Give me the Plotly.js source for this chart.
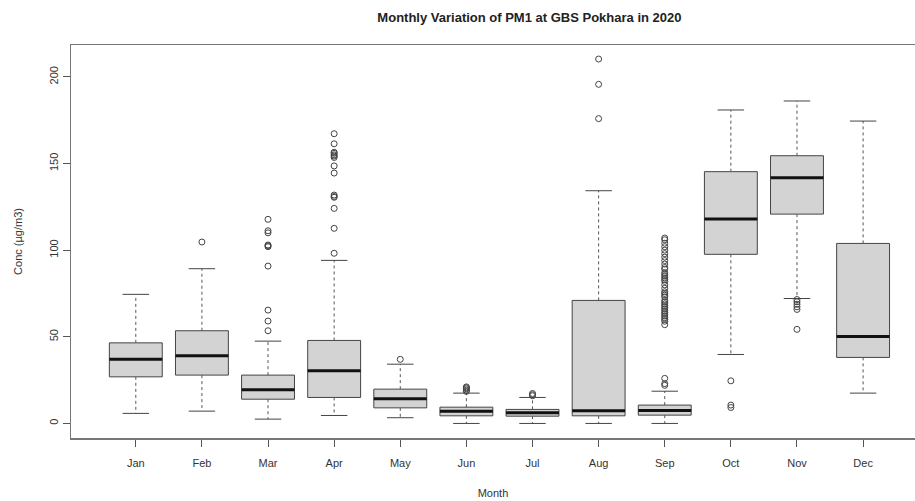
<!DOCTYPE html>
<html>
<head>
<meta charset="utf-8">
<script src="https://cdn.plot.ly/plotly-3.0.1.min.js"></script>
<style>html,body{margin:0;padding:0;background:#fff;}#chart{width:915px;height:501px;}</style>
</head>
<body>
<div id="chart"></div>
<script>
const months = ["Jan","Feb","Mar","Apr","May","Jun","Jul","Aug","Sep","Oct","Nov","Dec"];
const lowerWhisker = [5.8, 7.1, 2.5, 4.6, 3.3, 0.0, 0.0, 0.0, 0.0, 39.8, 72.1, 17.5];
const q1 =           [26.9, 27.9, 14.0, 15.0, 9.0, 4.4, 4.2, 4.4, 4.8, 97.6, 120.8, 38.1];
const median =       [37.1, 39.0, 19.4, 30.4, 14.2, 7.1, 6.1, 7.3, 7.5, 118.0, 141.8, 50.2];
const q3 =           [46.5, 53.5, 27.9, 47.9, 19.8, 9.4, 8.1, 71.0, 10.6, 145.3, 154.5, 103.9];
const upperWhisker = [74.5, 89.3, 47.5, 94.1, 34.2, 17.5, 15.0, 134.3, 18.6, 180.9, 186.1, 174.5];
const outliers = [
  [],
  [104.7],
  [117.8, 111.2, 110.0, 103.0, 102.5, 102.0, 90.8, 65.4, 59.1, 53.5],
  [167.2, 161.4, 156.5, 155.9, 155.0, 154.3, 153.5, 148.6, 144.5, 131.8, 131.0, 130.5, 124.1, 112.6, 98.2],
  [37.0],
  [18.5, 19.2, 20.0, 20.6, 21.1],
  [16.0, 16.6, 17.3],
  [210.3, 195.7, 175.9],
  [107.0, 106.0, 104.0, 102.0, 100.0, 98.0, 96.0, 94.0, 92.0, 90.0, 89.0, 87.0, 86.0, 85.0, 84.0, 83.0, 82.0, 80.0, 78.0, 76.0, 75.0, 74.0, 73.0, 71.0, 70.0, 69.0, 68.0, 67.0, 66.0, 65.0, 64.0, 63.0, 62.0, 61.0, 60.0, 59.0, 57.0, 26.0, 23.0, 22.0],
  [24.6, 10.6, 9.2],
  [71.5, 70.2, 68.8, 67.3, 65.8, 54.3],
  []
];

const pos = months.map((m, i) => i + 1);
const boxHalf = 0.4, capHalf = 0.2;

const boxTrace = {
  type: 'box', x: pos, q1: q1, median: median, q3: q3,
  lowerfence: q1, upperfence: q3,
  width: 0.8, whiskerwidth: 0, boxpoints: false,
  fillcolor: '#d3d3d3', line: {color: '#444', width: 1},
  hoverinfo: 'skip', showlegend: false
};

const wx = [], wy = [], cx = [], cy = [], mx = [], my = [];
pos.forEach((p, i) => {
  wx.push(p, p, null, p, p, null);
  wy.push(q3[i], upperWhisker[i], null, q1[i], lowerWhisker[i], null);
  cx.push(p - capHalf, p + capHalf, null, p - capHalf, p + capHalf, null);
  cy.push(upperWhisker[i], upperWhisker[i], null, lowerWhisker[i], lowerWhisker[i], null);
  mx.push(p - boxHalf, p + boxHalf, null);
  my.push(median[i], median[i], null);
});

const whiskers = {type: 'scatter', mode: 'lines', x: wx, y: wy, line: {color: '#555', width: 1, dash: '3px,3px'}, hoverinfo: 'skip', showlegend: false};
const caps = {type: 'scatter', mode: 'lines', x: cx, y: cy, line: {color: '#444', width: 1}, hoverinfo: 'skip', showlegend: false};
const medians = {type: 'scatter', mode: 'lines', x: mx, y: my, line: {color: '#111', width: 3}, hoverinfo: 'skip', showlegend: false};

const ox = [], oy = [];
outliers.forEach((arr, i) => arr.forEach(v => { ox.push(pos[i]); oy.push(v); }));
const outTrace = {type: 'scatter', mode: 'markers', x: ox, y: oy,
  marker: {symbol: 'circle-open', size: 6, color: '#444', line: {width: 1, color: '#444'}},
  hoverinfo: 'skip', showlegend: false};

const font = {family: 'Liberation Sans, Arial, sans-serif', size: 11, color: '#333'};
const layout = {
  width: 915, height: 501,
  margin: {l: 71, r: 0, t: 45, b: 63},
  paper_bgcolor: '#fff', plot_bgcolor: '#fff',
  font: font,
  title: {text: 'Monthly Variation of PM1 at GBS Pokhara in 2020',
    font: {family: 'Liberation Sans, Arial, sans-serif', size: 13, color: '#222', weight: 'bold'},
    x: 497/915, xanchor: 'center', xref: 'paper', y: 1 - 17/501, yref: 'container', yanchor: 'middle'},
  xaxis: {range: [0.02, 12.785], tickvals: pos, ticktext: months,
    ticks: 'outside', ticklen: 7, tickcolor: '#555', showline: true, linecolor: '#777', linewidth: 1.5,
    mirror: true, showgrid: false, zeroline: false, tickfont: font, ticklabelstandoff: 7,
    title: {text: 'Month', font: font, standoff: 21}},
  yaxis: {range: [-8.4, 218.4], tickvals: [0, 50, 100, 150, 200], tickangle: -90,
    ticks: 'outside', ticklen: 7, tickcolor: '#555', showline: true, linecolor: '#777', linewidth: 1.5,
    showgrid: false, zeroline: false, tickfont: font,
    title: {text: 'Conc (µg/m3)', font: font, standoff: 23}}
};

Plotly.newPlot('chart', [boxTrace, whiskers, caps, medians, outTrace], layout, {displayModeBar: false, staticPlot: true});
</script>
</body>
</html>
